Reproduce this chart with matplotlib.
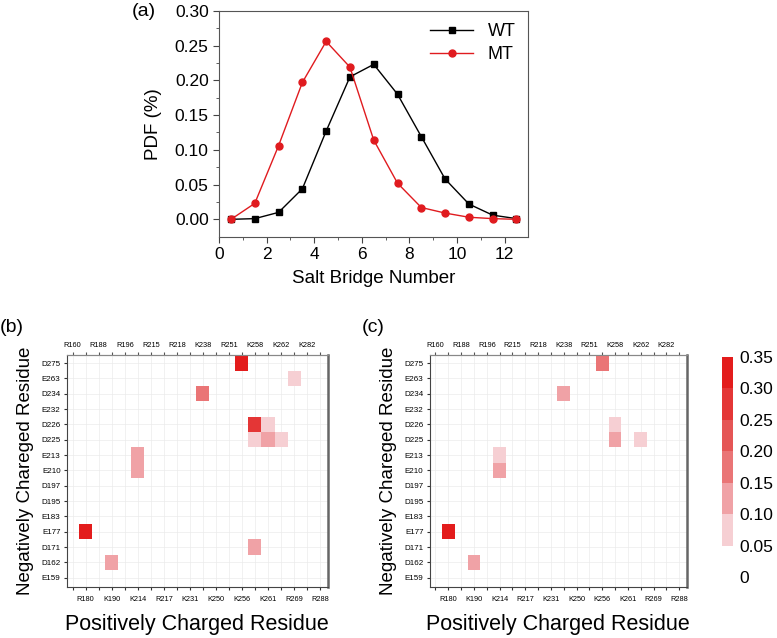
import numpy as np
import matplotlib
matplotlib.use("Agg")
import matplotlib.pyplot as plt
from matplotlib.colors import ListedColormap, BoundaryNorm

plt.rcParams['font.family'] = ['Liberation Sans', 'DejaVu Sans']

# (a) salt bridge number distribution
salt_bridge = [0.5, 1.5, 2.5, 3.5, 4.5, 5.5, 6.5, 7.5, 8.5, 9.5, 10.5, 11.5, 12.5]
pdf_wt = [0.0, 0.001, 0.010, 0.044, 0.127, 0.205, 0.223, 0.180, 0.119, 0.058, 0.022, 0.006, 0.001]
pdf_mt = [0.0, 0.023, 0.106, 0.197, 0.256, 0.219, 0.114, 0.052, 0.017, 0.009, 0.003, 0.001, 0.0]

# (b)/(c) salt bridge occupancy maps
pos_residues = ['R160', 'R180', 'R188', 'K190', 'R196', 'K214', 'R215', 'R217', 'R218', 'K231',
                'K238', 'K250', 'R251', 'K256', 'K258', 'K261', 'K262', 'R269', 'K282', 'R288']
neg_residues = ['E159', 'D162', 'D171', 'E177', 'E183', 'D195', 'D197', 'E210', 'E213', 'D225',
                'D226', 'E232', 'D234', 'E263', 'D275']

# (negative residue, positive residue, occupancy)
pairs_wt = [('D275', 'K256', 0.33), ('E263', 'R269', 0.07), ('D234', 'K238', 0.18),
            ('D226', 'K258', 0.27), ('D226', 'K261', 0.07), ('D225', 'K258', 0.07),
            ('D225', 'K261', 0.12), ('D225', 'K262', 0.07), ('E213', 'K214', 0.12),
            ('E210', 'K214', 0.12), ('E177', 'R180', 0.32), ('D171', 'K258', 0.12),
            ('D162', 'K190', 0.12)]
pairs_mt = [('D275', 'K256', 0.18), ('D234', 'K238', 0.12), ('D226', 'K258', 0.07),
            ('D225', 'K258', 0.12), ('D225', 'K262', 0.07), ('E213', 'K214', 0.07),
            ('E210', 'K214', 0.12), ('E177', 'R180', 0.33), ('D162', 'K190', 0.12)]

levels = [0, 0.05, 0.10, 0.15, 0.20, 0.25, 0.30, 0.35]
level_colors = ['#ffffff', '#f6cfd3', '#f0a2a6', '#ea7576', '#e55656', '#e43636', '#e31c1c']
cmap = ListedColormap(level_colors)
norm = BoundaryNorm(levels, cmap.N)


def to_matrix(pairs):
    m = np.zeros((len(neg_residues), len(pos_residues)))
    for neg, pos, v in pairs:
        m[neg_residues.index(neg), pos_residues.index(pos)] = v
    return np.ma.masked_less(m, 0.05)


fig = plt.figure(figsize=(7.77, 6.38), dpi=100)

# ---- panel (a)
ax = fig.add_axes([0.282, 0.629, 0.398, 0.354])
ax.plot(salt_bridge, pdf_wt, '-s', color='black', lw=1, ms=4.5, label='WT')
ax.plot(salt_bridge, pdf_mt, '-o', color='#e01b1f', lw=1, ms=5, label='MT')
ax.set_xlim(0, 13)
ax.set_ylim(-0.025, 0.30)
ax.set_xticks(range(0, 13, 2))
ax.set_xticks(range(1, 13, 2), minor=True)
ax.set_yticks(np.arange(0, 0.31, 0.05))
ax.set_yticks(np.arange(0.025, 0.30, 0.05), minor=True)
ax.set_yticklabels([f'{v:.2f}' for v in np.arange(0, 0.31, 0.05)])
ax.tick_params(which='both', direction='out', labelsize=12.5, color='#444444')
ax.tick_params(which='major', length=4)
ax.tick_params(which='minor', length=2.5)
for s in ax.spines.values():
    s.set_color('#555555')
ax.set_xlabel('Salt Bridge Number', fontsize=13.5, labelpad=6)
ax.set_ylabel('PDF (%)', fontsize=13.5, labelpad=9)
ax.legend(loc='upper right', frameon=False, fontsize=13, handlelength=2.4,
          borderaxespad=0.3, labelspacing=0.3)
fig.text(0.170, 0.982, '(a)', fontsize=14, va='center', ha='left')


# ---- panels (b), (c)
def draw_map(rect, pairs, tag, tag_x):
    ax = fig.add_axes(rect)
    ax.grid(True, color='#ebebeb', lw=0.5, zorder=0)
    ax.set_axisbelow(True)
    ax.pcolormesh(np.arange(-0.5, len(pos_residues)), np.arange(-0.5, len(neg_residues)),
                  to_matrix(pairs), cmap=cmap, norm=norm, zorder=2)
    ax.set_xlim(-0.45, len(pos_residues) - 0.4)
    ax.set_ylim(-0.6, len(neg_residues) - 0.45)
    ax.set_xticks(range(len(pos_residues)))
    ax.set_xticklabels([p if i % 2 == 1 else '' for i, p in enumerate(pos_residues)], fontsize=5.3)
    ax.set_yticks(range(len(neg_residues)))
    ax.set_yticklabels(neg_residues, fontsize=5.8)
    top = ax.secondary_xaxis('top')
    top.set_xticks(range(len(pos_residues)))
    top.set_xticklabels([p if i % 2 == 0 else '' for i, p in enumerate(pos_residues)], fontsize=5.3)
    top.tick_params(length=2.5, width=0.8, pad=1.5, color='#555555')
    top.spines['top'].set_color('#888888')
    ax.tick_params(axis='both', direction='out', length=2.5, width=0.8, pad=2, color='#333333')
    ax.tick_params(axis='x', pad=4)
    ax.spines['right'].set_color('#666666')
    ax.spines['right'].set_linewidth(1.8)
    ax.spines['top'].set_color('#888888')
    ax.spines['left'].set_color('#444444')
    ax.spines['bottom'].set_color('#444444')
    ax.set_xlabel('Positively Charged Residue', fontsize=15.5, labelpad=8)
    ax.set_ylabel('Negatively Chareged Residue', fontsize=13.5, labelpad=5)
    fig.text(tag_x, 0.486, tag, fontsize=14, va='center', ha='left')
    return ax


draw_map([0.086, 0.080, 0.336, 0.364], pairs_wt, '(b)', 0.0)
draw_map([0.553, 0.080, 0.331, 0.364], pairs_mt, '(c)', 0.466)

# ---- colorbar
cax = fig.add_axes([0.929, 0.0956, 0.0142, 0.345])
sm = plt.cm.ScalarMappable(cmap=cmap, norm=norm)
cb = fig.colorbar(sm, cax=cax, ticks=levels, spacing='proportional')
cb.outline.set_visible(False)
cb.ax.set_yticklabels(['0'] + [f'{v:.2f}' for v in levels[1:]])
cb.ax.tick_params(length=0, labelsize=12.5, pad=5)

fig.savefig('out.png', dpi=100)
